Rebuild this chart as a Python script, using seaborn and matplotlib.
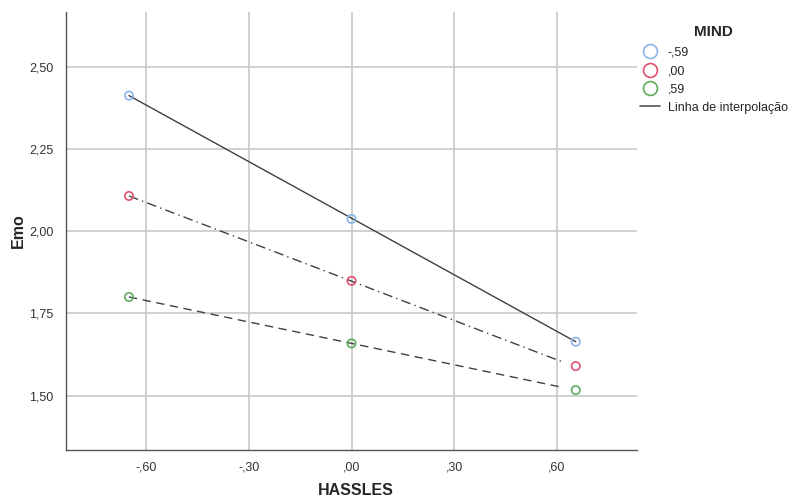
import pandas as pd
import matplotlib
matplotlib.use("Agg")
import matplotlib.pyplot as plt
import seaborn as sns
from matplotlib.lines import Line2D
from matplotlib.ticker import FuncFormatter

# values
hassles = [-0.65, 0.0, 0.655]
mind_levels = ["-,59", ",00", ",59"]
emo_low = [2.412, 2.037, 1.664]
emo_mid = [2.107, 1.849, 1.590]
emo_high = [1.800, 1.659, 1.517]

# interpolation lines (they stop a little short of the last marker)
line_start_x = [-0.65, -0.65, -0.65]
line_end_x = [0.655, 0.623, 0.613]
line_start_y = [2.412, 2.107, 1.800]
line_end_y = [1.664, 1.600, 1.526]

y_ticks = [1.50, 1.75, 2.00, 2.25, 2.50]
x_ticks = [-0.60, -0.30, 0.00, 0.30, 0.60]

colors = ["#8ab4ec", "#e0506e", "#5cad5c"]
dashes = ["-", (0, (7, 3, 1, 3)), (0, (6, 4))]

sns.set_style("whitegrid")
plt.rcParams['font.family'] = ['Liberation Sans', 'DejaVu Sans']

df = pd.DataFrame({
    "HASSLES": hassles * 3,
    "Emo": emo_low + emo_mid + emo_high,
    "MIND": [m for m in mind_levels for _ in hassles],
})

fig = plt.figure(figsize=(7.92, 5.0), dpi=100)
ax = fig.add_axes([66 / 792, 50 / 500, 571 / 792, 438 / 500])

for i, m in enumerate(mind_levels):
    ax.plot([line_start_x[i], line_end_x[i]], [line_start_y[i], line_end_y[i]],
            color="#404040", lw=1.0, linestyle=dashes[i], zorder=2)

sns.scatterplot(data=df, x="HASSLES", y="Emo", hue="MIND", hue_order=mind_levels,
                palette=colors, ax=ax, s=36, marker="o",
                linewidth=1.2, legend=False, zorder=3)
# hollow circles with coloured edges
coll = ax.collections[-1]
coll.set_edgecolors([colors[mind_levels.index(m)] for m in df["MIND"]])
coll.set_facecolors("none")

ax.set_xlim(-0.834, 0.834)
ax.set_ylim(1.335, 2.666)
ax.set_xticks(x_ticks)
ax.set_yticks(y_ticks)


def fmt_x(v, pos):
    s = f"{abs(v):.2f}".lstrip("0").replace(".", ",")
    return ("-" if v < -1e-9 else "") + s


ax.xaxis.set_major_formatter(FuncFormatter(fmt_x))
ax.yaxis.set_major_formatter(FuncFormatter(lambda v, p: f"{v:.2f}".replace(".", ",")))

ax.grid(True, color="#c8c8c8", lw=1.2)
for side in ["top", "right"]:
    ax.spines[side].set_visible(False)
for side in ["left", "bottom"]:
    ax.spines[side].set_color("#555555")
    ax.spines[side].set_linewidth(1.0)
ax.tick_params(axis="both", labelsize=9, colors="#555555", labelcolor="#333333",
               length=3, width=0.8, direction="out")
ax.tick_params(axis="x", pad=8, length=0)
ax.tick_params(axis="y", pad=6)

ax.set_xlabel("HASSLES", fontsize=11.5, fontweight="bold")
ax.set_ylabel("Emo", fontsize=11.5, fontweight="bold")
ax.xaxis.set_label_coords(0.5067, -0.075)
ax.yaxis.set_label_coords(-0.07, 0.5)

handles = [Line2D([], [], marker="o", linestyle="none", markersize=10,
                  markerfacecolor="none", markeredgecolor=c, markeredgewidth=1.2)
           for c in colors]
handles.append(Line2D([], [], color="#555555", lw=1.2))
labels = mind_levels + ["Linha de interpolação"]
leg = fig.legend(handles, labels, title="MIND", loc="upper left",
                 bbox_to_anchor=(640 / 792, 0.951), frameon=False, fontsize=9,
                 title_fontproperties={"weight": "bold", "size": 11},
                 handlelength=1.6, handletextpad=0.6, labelspacing=0.5,
                 borderaxespad=0, borderpad=0)
leg._legend_box.sep = 6

fig.savefig("out.png", dpi=100)
